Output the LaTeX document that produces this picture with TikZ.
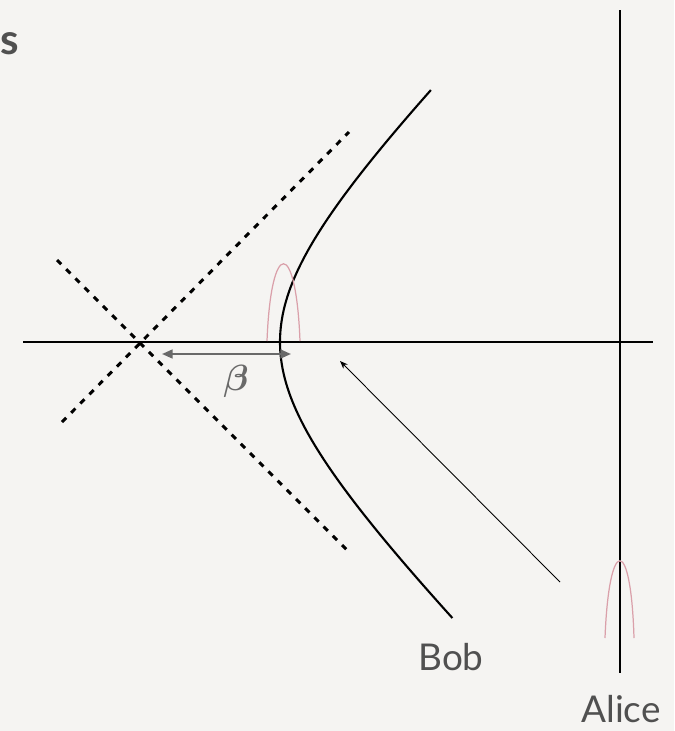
\documentclass[tikz,border=0pt]{standalone}
\usepackage{fontspec}
\usepackage{amsmath,amssymb}
\usepackage{tikz}
\usetikzlibrary{arrows.meta}
\newfontfamily\labelfont{Lato}
\definecolor{paper}{RGB}{245,244,242}
\definecolor{labelgray}{RGB}{80,80,80}
\definecolor{arrgray}{RGB}{105,105,105}
\definecolor{bumppink}{RGB}{218,160,170}

\begin{document}
\begin{tikzpicture}[x=0.02cm,y=-0.02cm,
  lbl/.style={text=labelgray,font=\labelfont\fontsize{21}{25}\selectfont},
  axis/.style={black,line width=1.1pt},
  asym/.style={black,line width=1.7pt,dash pattern=on 3.4pt off 4pt},
  hyp/.style={black,line width=1.2pt},
  bump/.style={bumppink,line width=0.7pt},
  betaarr/.style={{Triangle[length=6pt,width=5pt]}-{Triangle[length=6pt,width=5pt]},arrgray,line width=1.1pt},
  arr/.style={-{Stealth[length=4.5pt,width=3.5pt]},black,line width=0.5pt}
]
\fill[paper] (0,0) rectangle (674,731);
\useasboundingbox (0,0) rectangle (674,731);

% axes
\coordinate (axL) at (23,342);
\coordinate (axR) at (653,342);
\coordinate (vT) at (620,10);
\coordinate (vB) at (620,673);
\draw[axis] (axL) -- (axR);
\draw[axis] (vT) -- (vB);

% asymptotes
\coordinate (a1) at (57,260);
\coordinate (a2) at (349,552);
\coordinate (a3) at (62,422);
\coordinate (a4) at (349,132);
\draw[asym] (a1) -- (a2);
\draw[asym] (a3) -- (a4);

% Bob's hyperbola
\draw[hyp] plot[domain=-1.839:2.015,samples=80,smooth]
  ({142+138*sqrt(1+\x*\x)},{342+137*\x});

% wave packets
\draw[bump] (267,341) .. controls (271,238) and (296,238) .. (300,341);
\draw[bump] (605,638) .. controls (609,535) and (631,535) .. (634,638);

% beta
\coordinate (bL) at (162,354);
\coordinate (bR) at (291,354);
\draw[betaarr] (bL) -- (bR);
\node[text=arrgray,font=\fontsize{21}{24}\selectfont] (beta) at (236,381) {$\boldsymbol{\beta}$};

% signal
\coordinate (pS) at (560,582);
\coordinate (pE) at (340,361);
\draw[arr] (pS) -- (pE);

\node[lbl] (bob) at (451,657) {Bob};
\node[lbl] (alice) at (621,709) {Alice};
\node[lbl,anchor=west,inner sep=0pt,font=\labelfont\bfseries\fontsize{24}{28}\selectfont] (cut) at (0,44) {s};
\end{tikzpicture}
\end{document}
